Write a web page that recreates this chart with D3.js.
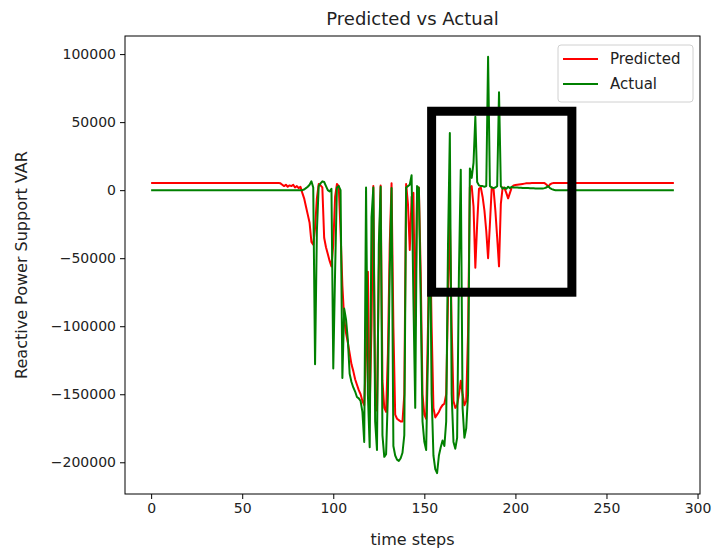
<!DOCTYPE html>
<html>
<head>
<meta charset="utf-8">
<script src="https://cdn.jsdelivr.net/npm/d3@7"></script>
<style>
  body { margin: 0; background: #fff; }
  svg { font-family: "DejaVu Sans", sans-serif; }
</style>
</head>
<body>
<script>
// values (one per time step, 0..287)
var predicted = [
  5300, 5300, 5300, 5300, 5300, 5300, 5300, 5300, 5300, 5300,
  5300, 5300, 5300, 5300, 5300, 5300, 5300, 5300, 5300, 5300,
  5300, 5300, 5300, 5300, 5300, 5300, 5300, 5300, 5300, 5300,
  5300, 5300, 5300, 5300, 5300, 5300, 5300, 5300, 5300, 5300,
  5300, 5300, 5300, 5300, 5300, 5300, 5300, 5300, 5300, 5300,
  5300, 5300, 5300, 5300, 5300, 5300, 5300, 5300, 5300, 5300,
  5300, 5300, 5300, 5300, 5300, 5300, 5300, 5300, 5300, 5300,
  5200, 5000, 4000, 3000, 4000, 2500, 3500, 3000, 4000, 2000,
  3000, 1500, 2500, -2000, -6000, -12000, -18000, -24000, -38000, -40000,
  -28000, -6000, 4500, 3500, 2000, -35000, -42000, -47000, -52000, -56000,
  -40000, -5000, 4500, 3000, -30000, -70000, -95000, -105000, -112000, -120000,
  -128000, -133000, -139000, -143000, -147000, -150000, -155000, -158000, -120000, -60000,
  -160000, -100000, 3000, -150000, -162000, -60000, 3500, -140000, -160000, -163000,
  -120000, -40000, 5000, -100000, -165000, -168000, -169000, -170000, -170000, -150000,
  4500, -10000, -44000, -5000, -2000, -100000, -3000, 2000, -60000, -150000,
  -165000, -168000, -100000, -20000, -100000, -160000, -167000, -165000, -163000, -160000,
  -158000, -157000, -150000, -80000, -20000, -100000, -155000, -160000, -158000, -150000,
  -140000, -150000, -158000, -155000, -105000, 2000, 3000, -12000, -57000, -25000,
  1000, 2000, -5000, -15000, -30000, -50000, -25000, 2000, 1000, -15000,
  -35000, -56000, -10000, 2000, 1500, -2000, -6000, -2000, 2000, 3500,
  3800, 4000, 4200, 4400, 4600, 4800, 5000, 5000, 5100, 5200,
  5200, 5200, 5200, 5200, 5200, 5200, 5200, 4200, 2500, 4200,
  5000, 5300, 5300, 5300, 5300, 5300, 5300, 5300, 5300, 5300,
  5300, 5300, 5300, 5300, 5300, 5300, 5300, 5300, 5300, 5300,
  5300, 5300, 5300, 5300, 5300, 5300, 5300, 5300, 5300, 5300,
  5300, 5300, 5300, 5300, 5300, 5300, 5300, 5300, 5300, 5300,
  5300, 5300, 5300, 5300, 5300, 5300, 5300, 5300, 5300, 5300,
  5300, 5300, 5300, 5300, 5300, 5300, 5300, 5300, 5300, 5300,
  5300, 5300, 5300, 5300, 5300, 5300, 5300, 5300
];

var actual = [
  0, 0, 0, 0, 0, 0, 0, 0, 0, 0,
  0, 0, 0, 0, 0, 0, 0, 0, 0, 0,
  0, 0, 0, 0, 0, 0, 0, 0, 0, 0,
  0, 0, 0, 0, 0, 0, 0, 0, 0, 0,
  0, 0, 0, 0, 0, 0, 0, 0, 0, 0,
  0, 0, 0, 0, 0, 0, 0, 0, 0, 0,
  0, 0, 0, 0, 0, 0, 0, 0, 0, 0,
  0, 0, 0, 0, 0, 0, 0, 0, 0, 0,
  0, 0, 0, 0, 500, 1500, 2500, 4000, 6500, 2000,
  -128000, -30000, 3000, 5000, 6500, 6000, 3000, 0, -1000, 1000,
  -131000, -60000, 2000, 3000, 0, -138000, -87000, -95000, -110000, -135000,
  -141000, -145000, -148000, -152000, -153000, -155000, -163000, -185000, 2000, -150000,
  -189000, -20000, 2000, -170000, -191000, -40000, 2500, -180000, -196000, -194000,
  -150000, -60000, 1500, -188000, -195000, -198000, -199000, -197000, -193000, -180000,
  2000, 3000, 4000, 11000, -80000, -160000, 3000, 1500, -80000, -170000,
  -185000, -191000, -120000, -10000, -150000, -195000, -205000, -208000, -195000, -189000,
  -184000, -188000, -170000, -40000, 42000, -150000, -185000, -190000, -182000, -60000,
  15000, -160000, -182000, -175000, -150000, 16000, 9000, 20000, 54000, 6000,
  3500, 3000, 3000, 2500, 3000, 98000, 3000, 2000, 1500, 2000,
  3000, 72000, 3000, 1000, 2000, 1000, 2500, 1500, 2500, 2000,
  2000, 2000, 1800, 1800, 1600, 1500, 1500, 1500, 1400, 1400,
  1400, 1300, 1300, 1200, 1200, 1200, 1500, 2000, 3000, 1500,
  800, 300, 0, 0, 0, 0, 0, 0, 0, 0,
  0, 0, 0, 0, 0, 0, 0, 0, 0, 0,
  0, 0, 0, 0, 0, 0, 0, 0, 0, 0,
  0, 0, 0, 0, 0, 0, 0, 0, 0, 0,
  0, 0, 0, 0, 0, 0, 0, 0, 0, 0,
  0, 0, 0, 0, 0, 0, 0, 0, 0, 0,
  0, 0, 0, 0, 0, 0, 0, 0
];

var xTicks = [0, 50, 100, 150, 200, 250, 300];
var yTicks = [-200000, -150000, -100000, -50000, 0, 50000, 100000];
var seriesNames = ["Predicted", "Actual"];
var seriesColors = ["red", "green"];
// black box drawn over the plot, in data units
var boxT = [154, 231];
var boxV = [58000, -75000];

var width = 712, height = 550;
var margin = {top: 36, right: 12, bottom: 56, left: 125};

var svg = d3.select("body").append("svg")
    .attr("width", width)
    .attr("height", height);

// matplotlib-like 5% padding around the data
var n = predicted.length;
var xSpan = n - 1;
var yMin = d3.min([d3.min(predicted), d3.min(actual)]);
var yMax = d3.max([d3.max(predicted), d3.max(actual)]);
var ySpan = yMax - yMin;

var x = d3.scaleLinear()
    .domain([-0.05 * xSpan, xSpan * 1.05])
    .range([margin.left, width - margin.right]);
var y = d3.scaleLinear()
    .domain([yMin - 0.05 * ySpan, yMax + 0.05 * ySpan])
    .range([height - margin.bottom, margin.top]);

var xAxis = d3.axisBottom(x).tickValues(xTicks).tickSize(5).tickPadding(4).tickFormat(d3.format("d"));
var yAxis = d3.axisLeft(y).tickValues(yTicks).tickSize(5).tickPadding(4).tickFormat(d3.format("d"));

var gx = svg.append("g")
    .attr("transform", "translate(0," + (height - margin.bottom) + ")")
    .call(xAxis);
var gy = svg.append("g")
    .attr("transform", "translate(" + margin.left + ",0)")
    .call(yAxis);
[gx, gy].forEach(function(g){
    g.select(".domain").remove();
    g.selectAll(".tick line").attr("stroke", "#000").attr("stroke-width", 1);
    g.selectAll(".tick text").attr("fill", "#222").style("font-size", "14px")
        .style("font-family", "DejaVu Sans");
});

// lines
var line = d3.line()
    .x(function(d, i){ return x(i); })
    .y(function(d){ return y(d); });

[predicted, actual].forEach(function(s, k){
    svg.append("path")
        .attr("d", line(s))
        .attr("fill", "none")
        .attr("stroke", seriesColors[k])
        .attr("stroke-width", 2)
        .attr("stroke-linejoin", "round");
});

// frame
svg.append("rect")
    .attr("x", margin.left)
    .attr("y", margin.top)
    .attr("width", width - margin.left - margin.right)
    .attr("height", height - margin.top - margin.bottom)
    .attr("fill", "none")
    .attr("stroke", "#000")
    .attr("stroke-width", 1);

// title + axis labels
svg.append("text")
    .attr("x", (margin.left + width - margin.right) / 2)
    .attr("y", 25)
    .attr("text-anchor", "middle")
    .attr("fill", "#222")
    .style("font-size", "18px")
    .text("Predicted vs Actual");
svg.append("text")
    .attr("x", (margin.left + width - margin.right) / 2)
    .attr("y", 545)
    .attr("text-anchor", "middle")
    .attr("fill", "#222")
    .style("font-size", "16px")
    .text("time steps");
svg.append("text")
    .attr("transform", "translate(27," + ((margin.top + height - margin.bottom) / 2) + ") rotate(-90)")
    .attr("text-anchor", "middle")
    .attr("fill", "#222")
    .style("font-size", "16px")
    .text("Reactive Power Support VAR");

// legend
var lg = svg.append("g").attr("transform", "translate(558,45)");
lg.append("rect")
    .attr("width", 135).attr("height", 57).attr("rx", 3)
    .attr("fill", "#fff").attr("fill-opacity", 0.8)
    .attr("stroke", "#d0d0d0");
seriesNames.forEach(function(name, k){
    var yy = 14 + k * 25;
    lg.append("line")
        .attr("x1", 5).attr("x2", 40).attr("y1", yy).attr("y2", yy)
        .attr("stroke", seriesColors[k]).attr("stroke-width", 2);
    lg.append("text")
        .attr("x", 52).attr("y", yy + 5)
        .attr("fill", "#222")
        .style("font-size", "15px")
        .text(name);
});

// thick black highlight box
svg.append("rect")
    .attr("x", x(boxT[0]))
    .attr("y", y(boxV[0]))
    .attr("width", x(boxT[1]) - x(boxT[0]))
    .attr("height", y(boxV[1]) - y(boxV[0]))
    .attr("fill", "none")
    .attr("stroke", "#000")
    .attr("stroke-width", 9);
</script>
</body>
</html>
